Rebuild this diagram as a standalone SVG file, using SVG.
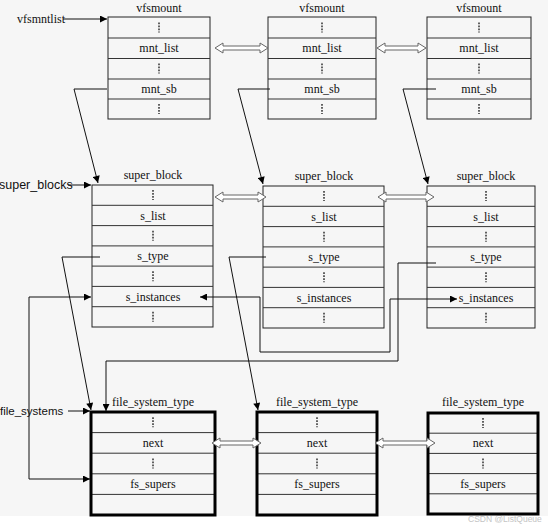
<svg xmlns="http://www.w3.org/2000/svg" xmlns:xlink="http://www.w3.org/1999/xlink" width="548" height="530" viewBox="0 0 548 530">
<style>
  .box{fill:none;stroke:#222;stroke-width:1}
  .fsbox{fill:none;stroke:#000;stroke-width:3}
  .div{stroke:#333;stroke-width:1}
  .t{font-family:"Liberation Serif","Times New Roman",serif;font-size:12px;fill:#111;text-anchor:middle}
  .lbl{font-family:"Liberation Sans",Arial,sans-serif;font-size:12.5px;fill:#111}
  .lbls{font-family:"Liberation Serif","Times New Roman",serif;font-size:12px;fill:#111}
  .dots{stroke:#222;stroke-width:1.4;stroke-dasharray:1.8 1.2}
  .con{fill:none;stroke:#111;stroke-width:1}
  .arr{marker-end:url(#ah)}
  .both{marker-start:url(#ah);marker-end:url(#ah)}
  .dbl{fill:#fff;stroke:#666;stroke-width:1}
  .wm{font-family:"Liberation Sans",Arial,sans-serif;font-size:8.5px;fill:#c4c4c4}
</style>
<defs>
  <marker id="ah" viewBox="0 0 10 10" refX="10" refY="5" markerWidth="8" markerHeight="7" markerUnits="userSpaceOnUse" orient="auto-start-reverse">
    <path d="M0,0 L10,5 L0,10 z" fill="#000"/>
  </marker>
  <line id="vd" class="dots" x1="0" y1="-5" x2="0" y2="5"/>
</defs>
<rect x="0" y="0" width="548" height="530" fill="#f6f6f6"/>
<rect x="0" y="516" width="548" height="14" fill="#ffffff"/>

<!-- labels -->
<g id="labels">
  <text class="lbls" x="17" y="23">vfsmntlist</text>
  <text class="lbl" x="-1" y="189">super_blocks</text>
  <text class="lbl" x="0" y="415" style="font-size:11.5px">file_systems</text>
  <text class="wm" x="468" y="522">CSDN @ListQueue</text>
</g>

<!-- vfsmount 1 -->
<g id="vfsmount1">
  <text class="t" x="159" y="12">vfsmount</text>
  <rect class="box" x="108" y="17" width="102" height="102"/>
  <line class="div" x1="108" y1="38" x2="210" y2="38"/>
  <line class="div" x1="108" y1="58.5" x2="210" y2="58.5"/>
  <line class="div" x1="108" y1="79" x2="210" y2="79"/>
  <line class="div" x1="108" y1="99" x2="210" y2="99"/>
  <use xlink:href="#vd" x="159" y="27.5"/>
  <text class="t" x="159" y="52">mnt_list</text>
  <use xlink:href="#vd" x="159" y="68.5"/>
  <text class="t" x="159" y="93">mnt_sb</text>
  <use xlink:href="#vd" x="159" y="109"/>
</g>
<!-- vfsmount 2 -->
<g id="vfsmount2">
  <text class="t" x="322" y="12">vfsmount</text>
  <rect class="box" x="268" y="17" width="108" height="102"/>
  <line class="div" x1="268" y1="38" x2="376" y2="38"/>
  <line class="div" x1="268" y1="58.5" x2="376" y2="58.5"/>
  <line class="div" x1="268" y1="79" x2="376" y2="79"/>
  <line class="div" x1="268" y1="99" x2="376" y2="99"/>
  <use xlink:href="#vd" x="322" y="27.5"/>
  <text class="t" x="322" y="52">mnt_list</text>
  <use xlink:href="#vd" x="322" y="68.5"/>
  <text class="t" x="322" y="93">mnt_sb</text>
  <use xlink:href="#vd" x="322" y="109"/>
</g>
<!-- vfsmount 3 -->
<g id="vfsmount3">
  <text class="t" x="479" y="12">vfsmount</text>
  <rect class="box" x="427" y="17" width="104" height="102"/>
  <line class="div" x1="427" y1="38" x2="531" y2="38"/>
  <line class="div" x1="427" y1="58.5" x2="531" y2="58.5"/>
  <line class="div" x1="427" y1="79" x2="531" y2="79"/>
  <line class="div" x1="427" y1="99" x2="531" y2="99"/>
  <use xlink:href="#vd" x="479" y="27.5"/>
  <text class="t" x="479" y="52">mnt_list</text>
  <use xlink:href="#vd" x="479" y="68.5"/>
  <text class="t" x="479" y="93">mnt_sb</text>
  <use xlink:href="#vd" x="479" y="109"/>
</g>

<!-- super_block 1 -->
<g id="super_block1">
  <text class="t" x="153" y="179">super_block</text>
  <rect class="box" x="92" y="185" width="121" height="142"/>
  <line class="div" x1="92" y1="205.3" x2="213" y2="205.3"/>
  <line class="div" x1="92" y1="225.6" x2="213" y2="225.6"/>
  <line class="div" x1="92" y1="245.9" x2="213" y2="245.9"/>
  <line class="div" x1="92" y1="266.1" x2="213" y2="266.1"/>
  <line class="div" x1="92" y1="286.4" x2="213" y2="286.4"/>
  <line class="div" x1="92" y1="306.7" x2="213" y2="306.7"/>
  <use xlink:href="#vd" x="153" y="195"/>
  <text class="t" x="153" y="219.5">s_list</text>
  <use xlink:href="#vd" x="153" y="235.8"/>
  <text class="t" x="153" y="260">s_type</text>
  <use xlink:href="#vd" x="153" y="276.3"/>
  <text class="t" x="153" y="301">s_instances</text>
  <use xlink:href="#vd" x="153" y="316.8"/>
</g>
<!-- super_block 2 -->
<g id="super_block2">
  <text class="t" x="324" y="180">super_block</text>
  <rect class="box" x="263" y="186" width="121" height="142"/>
  <line class="div" x1="263" y1="206.3" x2="384" y2="206.3"/>
  <line class="div" x1="263" y1="226.6" x2="384" y2="226.6"/>
  <line class="div" x1="263" y1="246.9" x2="384" y2="246.9"/>
  <line class="div" x1="263" y1="267.1" x2="384" y2="267.1"/>
  <line class="div" x1="263" y1="287.4" x2="384" y2="287.4"/>
  <line class="div" x1="263" y1="307.7" x2="384" y2="307.7"/>
  <use xlink:href="#vd" x="324" y="196"/>
  <text class="t" x="324" y="220.5">s_list</text>
  <use xlink:href="#vd" x="324" y="236.8"/>
  <text class="t" x="324" y="261">s_type</text>
  <use xlink:href="#vd" x="324" y="277.3"/>
  <text class="t" x="324" y="302">s_instances</text>
  <use xlink:href="#vd" x="324" y="317.8"/>
</g>
<!-- super_block 3 -->
<g id="super_block3">
  <text class="t" x="486" y="180">super_block</text>
  <rect class="box" x="427" y="186" width="108" height="142"/>
  <line class="div" x1="427" y1="206.3" x2="535" y2="206.3"/>
  <line class="div" x1="427" y1="226.6" x2="535" y2="226.6"/>
  <line class="div" x1="427" y1="246.9" x2="535" y2="246.9"/>
  <line class="div" x1="427" y1="267.1" x2="535" y2="267.1"/>
  <line class="div" x1="427" y1="287.4" x2="535" y2="287.4"/>
  <line class="div" x1="427" y1="307.7" x2="535" y2="307.7"/>
  <use xlink:href="#vd" x="486" y="196"/>
  <text class="t" x="486" y="220.5">s_list</text>
  <use xlink:href="#vd" x="486" y="236.8"/>
  <text class="t" x="486" y="261">s_type</text>
  <use xlink:href="#vd" x="486" y="277.3"/>
  <text class="t" x="486" y="302">s_instances</text>
  <use xlink:href="#vd" x="486" y="317.8"/>
</g>

<!-- file_system_type 1 -->
<g id="fstype1">
  <text class="t" x="153" y="406">file_system_type</text>
  <line class="div" x1="91" y1="432.6" x2="215" y2="432.6"/>
  <line class="div" x1="91" y1="453.2" x2="215" y2="453.2"/>
  <line class="div" x1="91" y1="473.8" x2="215" y2="473.8"/>
  <line class="div" x1="91" y1="494.4" x2="215" y2="494.4"/>
  <rect class="fsbox" x="91" y="412" width="124" height="103"/>
  <use xlink:href="#vd" x="153" y="422.3"/>
  <text class="t" x="153" y="447">next</text>
  <use xlink:href="#vd" x="153" y="463.5"/>
  <text class="t" x="153" y="488">fs_supers</text>
</g>
<!-- file_system_type 2 -->
<g id="fstype2">
  <text class="t" x="317" y="406">file_system_type</text>
  <line class="div" x1="257" y1="432.6" x2="377" y2="432.6"/>
  <line class="div" x1="257" y1="453.2" x2="377" y2="453.2"/>
  <line class="div" x1="257" y1="473.8" x2="377" y2="473.8"/>
  <line class="div" x1="257" y1="494.4" x2="377" y2="494.4"/>
  <rect class="fsbox" x="257" y="412" width="120" height="103"/>
  <use xlink:href="#vd" x="317" y="422.3"/>
  <text class="t" x="317" y="447">next</text>
  <use xlink:href="#vd" x="317" y="463.5"/>
  <text class="t" x="317" y="488">fs_supers</text>
</g>
<!-- file_system_type 3 -->
<g id="fstype3">
  <text class="t" x="483" y="406">file_system_type</text>
  <line class="div" x1="428" y1="433.2" x2="538" y2="433.2"/>
  <line class="div" x1="428" y1="453.4" x2="538" y2="453.4"/>
  <line class="div" x1="428" y1="473.6" x2="538" y2="473.6"/>
  <line class="div" x1="428" y1="493.8" x2="538" y2="493.8"/>
  <rect class="fsbox" x="428" y="413" width="110" height="101"/>
  <use xlink:href="#vd" x="483" y="423"/>
  <text class="t" x="483" y="447">next</text>
  <use xlink:href="#vd" x="483" y="463.5"/>
  <text class="t" x="483" y="488">fs_supers</text>
</g>

<!-- connectors -->
<g id="connectors">
  <path class="con arr" d="M63,19 H107"/>
  <path class="con arr" d="M68,185 H91"/>
  <path class="con arr" d="M68,411 H90"/>
  <path class="con arr" d="M107,89 H74 L98,183"/>
  <path class="con arr" d="M270,89 H238 L263,184"/>
  <path class="con arr" d="M436,89 H403 L428,184"/>
  <path class="con arr" d="M100,257 H62 L91,410"/>
  <path class="con arr" d="M266,257 H229 L258,410"/>
  <path class="con arr" d="M436,263 H398 V361 H106 V411"/>
  <path class="con both" d="M91,297 H29 V479 H90"/>
  <path class="con both" d="M200,297 H260 V352 H390 V299 H457"/>
  <polygon class="dbl" points="215,48 223,43 223,46 260,46 260,43 268,48 260,53 260,50 223,50 223,53"/>
  <polygon class="dbl" points="377,48 385,43 385,46 418,46 418,43 426,48 418,53 418,50 385,50 385,53"/>
  <polygon class="dbl" points="215,197 223,192 223,195 258,195 258,192 266,197 258,202 258,199 223,199 223,202"/>
  <polygon class="dbl" points="378,197 386,192 386,195 426,195 426,192 434,197 426,202 426,199 386,199 386,202"/>
  <polygon class="dbl" points="212,443 220,438 220,441 253,441 253,438 261,443 253,448 253,445 220,445 220,448"/>
  <polygon class="dbl" points="375,443 383,438 383,441 427,441 427,438 435,443 427,448 427,445 383,445 383,448"/>
</g>
</svg>
